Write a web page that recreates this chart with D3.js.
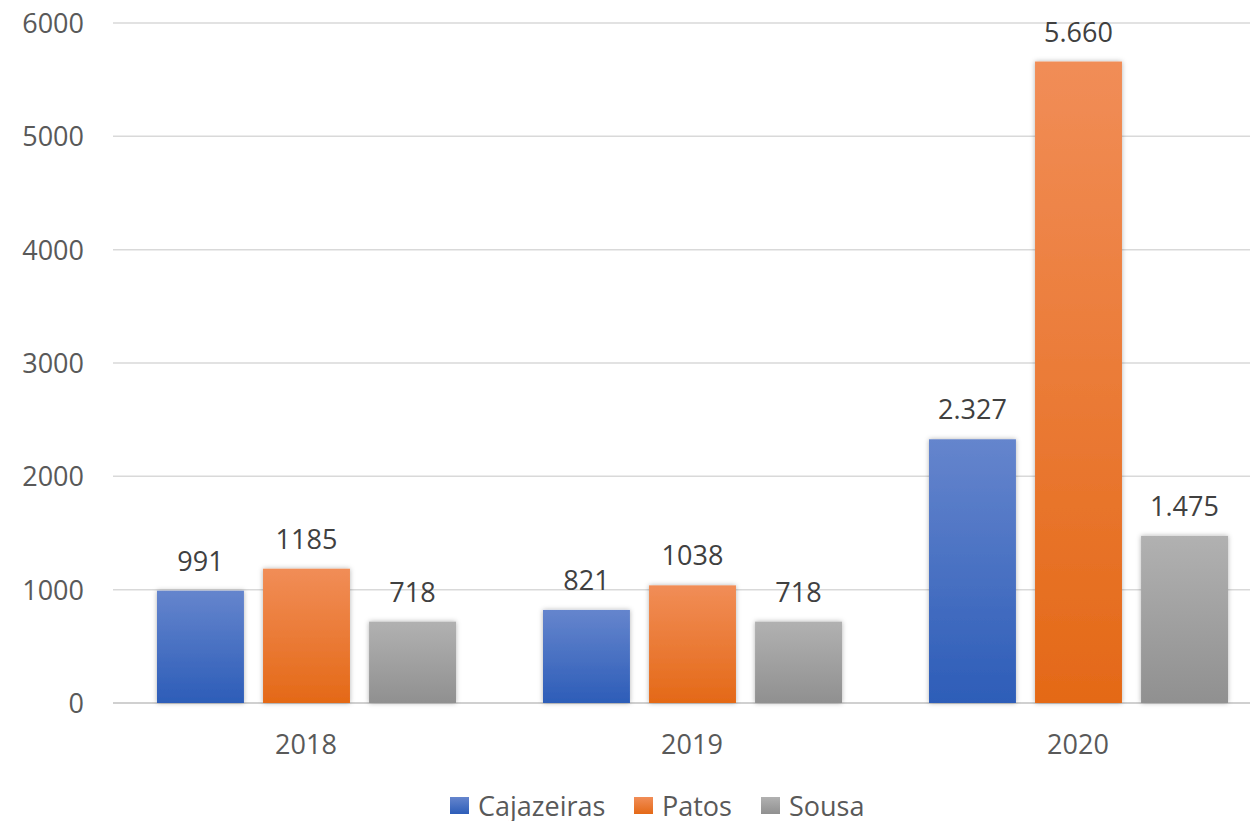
<!DOCTYPE html>
<html>
<head>
<meta charset="utf-8">
<script src="https://cdn.jsdelivr.net/npm/d3@7"></script>
<style>
  body { margin: 0; background: #fff; }
  svg text { font-family: "Open Sans", sans-serif; }
</style>
</head>
<body>
<svg id="chart"></svg>
<script>
// data
const years = ['2018', '2019', '2020'];
const cities = ['Cajazeiras', 'Patos', 'Sousa'];
const cajazeiras = [991, 821, 2327];
const patos = [1185, 1038, 5660];
const sousa = [718, 718, 1475];
const cajazeirasLabels = ['991', '821', '2.327'];
const patosLabels = ['1185', '1038', '5.660'];
const sousaLabels = ['718', '718', '1.475'];
const yTicks = [0, 1000, 2000, 3000, 4000, 5000, 6000];

const series = [
    { name: cities[0], values: cajazeiras, labels: cajazeirasLabels, top: '#6585cd', bottom: '#2d5db8' },
    { name: cities[1], values: patos, labels: patosLabels, top: '#f18d57', bottom: '#e46917' },
    { name: cities[2], values: sousa, labels: sousaLabels, top: '#b1b1b1', bottom: '#909090' }
];

const width = 1250, height = 821;
const margin = { top: 23, left: 113 };
const plotBottom = 703;
const plotRight = 1271; // plot runs a bit past the window, as in the reference

const svg = d3.select('#chart').attr('width', width).attr('height', height);

// gradients + soft shadow
const defs = svg.append('defs');
series.forEach((s, i) => {
    const g = defs.append('linearGradient')
        .attr('id', 'grad' + i)
        .attr('x1', 0).attr('y1', 0).attr('x2', 0).attr('y2', 1);
    g.append('stop').attr('offset', '0%').attr('stop-color', s.top);
    g.append('stop').attr('offset', '100%').attr('stop-color', s.bottom);
});
const shadow = defs.append('filter').attr('id', 'shadow')
    .attr('x', '-20%').attr('y', '-10%').attr('width', '140%').attr('height', '120%');
shadow.append('feDropShadow')
    .attr('dx', 0).attr('dy', 0).attr('stdDeviation', 2.5)
    .attr('flood-color', '#000').attr('flood-opacity', 0.3);

// scales
const x0 = d3.scaleBand().domain(years).range([margin.left, plotRight]).paddingInner(0).paddingOuter(0);
const x1 = d3.scaleBand().domain(cities).range([44, x0.bandwidth() - 43]).paddingInner(0.18);
const y = d3.scaleLinear().domain([0, 6000]).range([plotBottom, margin.top]);

// gridlines
svg.append('g')
    .selectAll('line')
    .data(yTicks)
    .join('line')
    .attr('x1', margin.left).attr('x2', plotRight)
    .attr('y1', d => y(d)).attr('y2', d => y(d))
    .attr('stroke', d => d === 0 ? '#d0d0d0' : '#d9d9d9')
    .attr('stroke-width', d => d === 0 ? 2 : 1.5);

// y axis labels
svg.append('g')
    .selectAll('text')
    .data(yTicks)
    .join('text')
    .attr('x', 84)
    .attr('y', d => y(d) + 10)
    .attr('text-anchor', 'end')
    .attr('fill', '#595959')
    .attr('font-size', 27)
    .text(d => d);

// bars
const groups = svg.append('g')
    .selectAll('g')
    .data(years)
    .join('g')
    .attr('transform', d => `translate(${x0(d)},0)`);

groups.selectAll('rect')
    .data((d, i) => series.map((s, k) => ({ k, name: s.name, v: s.values[i], label: s.labels[i] })))
    .join('rect')
    .attr('x', d => x1(d.name))
    .attr('width', x1.bandwidth())
    .attr('y', d => y(d.v))
    .attr('height', d => plotBottom - y(d.v))
    .attr('fill', d => `url(#grad${d.k})`)
    .attr('filter', 'url(#shadow)');

// value labels
groups.selectAll('text.val')
    .data((d, i) => series.map((s, k) => ({ name: s.name, v: s.values[i], label: s.labels[i] })))
    .join('text')
    .attr('class', 'val')
    .attr('x', d => x1(d.name) + x1.bandwidth() / 2)
    .attr('y', d => y(d.v) - 20)
    .attr('text-anchor', 'middle')
    .attr('fill', '#404040')
    .attr('font-size', 27)
    .text(d => d.label);

// x axis labels
svg.append('g')
    .selectAll('text')
    .data(years)
    .join('text')
    .attr('x', d => x0(d) + x0.bandwidth() / 2)
    .attr('y', 754)
    .attr('text-anchor', 'middle')
    .attr('fill', '#595959')
    .attr('font-size', 27)
    .text(d => d);

// legend
const legendX = [450, 634, 761];
const legend = svg.append('g')
    .selectAll('g')
    .data(series)
    .join('g')
    .attr('transform', (d, i) => `translate(${legendX[i]},797)`);
legend.append('rect')
    .attr('width', 19).attr('height', 17)
    .attr('fill', (d, i) => `url(#grad${i})`);
legend.append('text')
    .attr('x', 28).attr('y', 19)
    .attr('fill', '#595959')
    .attr('font-size', 27)
    .text(d => d.name);
</script>
</body>
</html>
